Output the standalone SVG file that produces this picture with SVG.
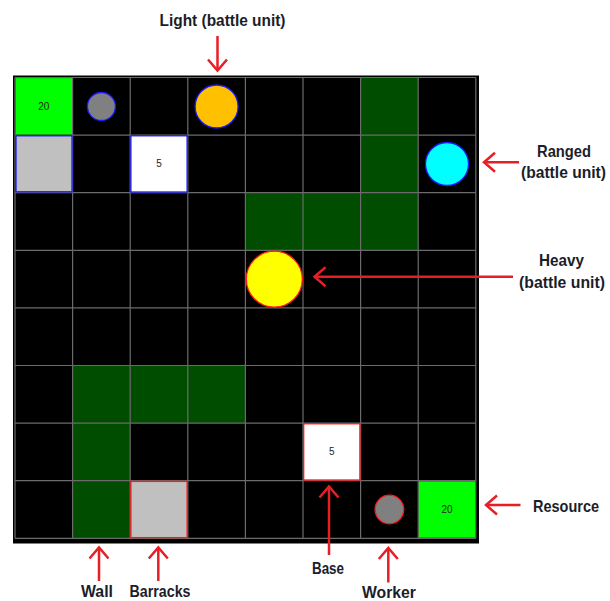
<svg xmlns="http://www.w3.org/2000/svg" width="610" height="601" viewBox="0 0 610 601">
<defs>
<style>
.lbl{font-family:"Liberation Sans",Arial,sans-serif;font-weight:bold;font-size:16.5px;fill:#1b1e2a}
.num{font-family:"Liberation Sans",Arial,sans-serif;font-size:10px;fill:#222;text-anchor:middle}
.grid{stroke:#6b6b6b;stroke-width:1.2;fill:none}
.wall{fill:#004d00}
.res{fill:#00ff00}
.arrow{stroke:#e81e25;stroke-width:2.5;fill:none;marker-end:url(#head)}
.pb{stroke:#1a1aff;stroke-width:1.3}
.pr{stroke:#ff1a1a;stroke-width:1.3}
</style>
<marker id="head" markerUnits="userSpaceOnUse" markerWidth="30" markerHeight="30" viewBox="-15 -15 30 30" refX="0" refY="0" orient="auto">
<path d="M-11,-9.5 L0,0 L-11,9.5" fill="none" stroke="#e81e25" stroke-width="2.5"/>
</marker>
</defs>
<rect width="610" height="601" fill="#ffffff"/>
<g id="board">
<rect x="13" y="75.5" width="466" height="468" fill="#000"/>
<rect class="wall" x="360.6" y="77.5" width="57.6" height="115.2"/>
<rect class="wall" x="245.4" y="192.7" width="172.8" height="57.6"/>
<rect class="wall" x="72.6" y="365.5" width="172.8" height="57.6"/>
<rect class="wall" x="72.6" y="423.1" width="57.6" height="115.2"/>
<path class="grid" d="M15,77.5V538.3M72.6,77.5V538.3M130.2,77.5V538.3M187.8,77.5V538.3M245.4,77.5V538.3M303,77.5V538.3M360.6,77.5V538.3M418.2,77.5V538.3M475.8,77.5V538.3M15,77.5H475.8M15,135.1H475.8M15,192.7H475.8M15,250.3H475.8M15,307.9H475.8M15,365.5H475.8M15,423.1H475.8M15,480.7H475.8M15,538.3H475.8"/>
</g>
<g id="resource-top">
<rect class="res" x="15.6" y="78.1" width="56.4" height="56.4"/>
<text class="num" x="43.8" y="109.5">20</text>
</g>
<g id="worker-top"><circle class="pb" cx="101.4" cy="106.5" r="14" fill="#808080"/></g>
<g id="light-unit"><circle class="pb" cx="216.6" cy="106.5" r="21.5" fill="#ffc000"/></g>
<g id="barracks-top"><rect class="pb" x="16" y="135.8" width="56" height="56" fill="#c0c0c0"/></g>
<g id="base-top">
<rect class="pb" x="130.9" y="135.8" width="56.2" height="56.2" fill="#ffffff"/>
<text class="num" x="159" y="167">5</text>
</g>
<g id="ranged-unit"><circle class="pb" cx="447" cy="164" r="21.5" fill="#00ffff"/></g>
<g id="heavy-unit"><circle class="pr" cx="274.3" cy="279.2" r="28" fill="#ffff00"/></g>
<g id="base-bottom">
<rect class="pr" x="303.7" y="423.8" width="56.2" height="56.2" fill="#ffffff"/>
<text class="num" x="331.8" y="455">5</text>
</g>
<g id="barracks-bottom"><rect class="pr" x="130.9" y="481.4" width="56.2" height="56.2" fill="#c0c0c0"/></g>
<g id="worker-bottom"><circle class="pr" cx="389.4" cy="509.5" r="14.3" fill="#808080"/></g>
<g id="resource-bottom">
<rect class="res" x="418.8" y="481.3" width="56.4" height="56.4"/>
<text class="num" x="447" y="512.7">20</text>
</g>
<g id="labels">
<text class="lbl" x="159.5" y="25.5" textLength="126" lengthAdjust="spacingAndGlyphs">Light (battle unit)</text>
<text class="lbl" x="537" y="157" textLength="54" lengthAdjust="spacingAndGlyphs">Ranged</text>
<text class="lbl" x="521" y="177.5" textLength="85" lengthAdjust="spacingAndGlyphs">(battle unit)</text>
<text class="lbl" x="539" y="266" textLength="45" lengthAdjust="spacingAndGlyphs">Heavy</text>
<text class="lbl" x="519" y="287.5" textLength="86" lengthAdjust="spacingAndGlyphs">(battle unit)</text>
<text class="lbl" x="533" y="511.5" textLength="66" lengthAdjust="spacingAndGlyphs">Resource</text>
<text class="lbl" x="312" y="573.5" textLength="32" lengthAdjust="spacingAndGlyphs">Base</text>
<text class="lbl" x="362" y="597.5" textLength="54" lengthAdjust="spacingAndGlyphs">Worker</text>
<text class="lbl" x="81" y="596.5" textLength="32" lengthAdjust="spacingAndGlyphs">Wall</text>
<text class="lbl" x="129.5" y="596.5" textLength="61" lengthAdjust="spacingAndGlyphs">Barracks</text>
</g>
<g id="connectors">
<path class="arrow" d="M217.5,36V70.5"/>
<path class="arrow" d="M519,162.3H484"/>
<path class="arrow" d="M513,276.7H314.5"/>
<path class="arrow" d="M520.5,505H486"/>
<path class="arrow" d="M329,555V486.5"/>
<path class="arrow" d="M388.3,582.5V548"/>
<path class="arrow" d="M99,581V547.5"/>
<path class="arrow" d="M158.3,581V547.5"/>
</g>
</svg>
